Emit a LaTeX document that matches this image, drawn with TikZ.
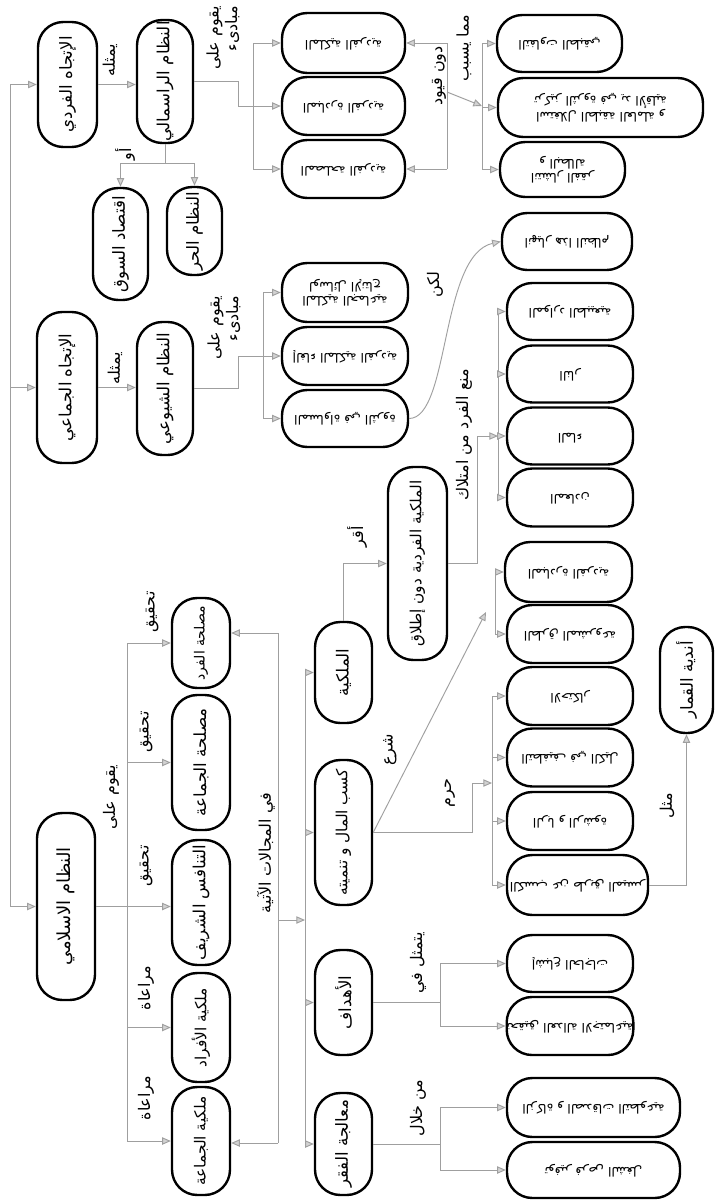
\documentclass[tikz,border=0pt]{standalone}
\usepackage{fontspec}
\usepackage{graphicx}
\newfontfamily\arabicfont[Script=Arabic]{DejaVu Sans}
\TeXXeTstate=1
\usetikzlibrary{arrows.meta}
\newcommand\ar[1]{{\arabicfont\beginR #1\endR}}
\newcommand\vt[1]{\rotatebox{90}{\ar{#1}}}
\newcommand\ut[1]{\rotatebox{180}{\begin{tabular}{@{}c@{}}#1\end{tabular}}}
\tikzset{
  box/.style 2 args={draw, line width=1.8pt, rounded corners=19pt, inner sep=0pt,
    minimum width=#1*0.75pt, minimum height=#2*0.75pt, font=\fontsize{12.5}{14}\selectfont},
  small/.style={font=\fontsize{9.5}{11}\selectfont},
  tight/.style={font=\fontsize{11.5}{13}\selectfont},
  link/.style={draw=gray!75, line width=0.7pt},
  arr/.style={link, -{Triangle[length=6.5pt, width=5.5pt, fill=gray!35]}},
  lab/.style={rotate=90, font=\fontsize{12}{14}\selectfont, inner sep=1pt},
}
\begin{document}
\begin{tikzpicture}[x=0.75pt, y=-0.75pt]
  \path[fill=white] (0,0) rectangle (715,1200);
  % top level
  \node[box={59}{125}] (A1) at (67.5,84.5) {\vt{الإتجاه الفردي}};
  \node[box={60}{151}] (A2) at (67,387.5) {\vt{الإتجاه الجماعي}};
  \node[box={58}{187}, font=\fontsize{13.5}{15}\selectfont] (A3) at (66,906.5) {\vt{النظام الاسلامي}};
  \node[box={56}{123}] (B1) at (165,81.5) {\vt{النظام الراسمالي}};
  \node[box={56}{133}] (B2) at (165,388.5) {\vt{النظام الشيوعي}};
  \node[box={55}{112}] (C1) at (120.5,244) {\vt{اقتصاد السوق}};
  \node[box={55}{88}] (C2) at (194.5,231) {\vt{النظام الحر}};
  % capitalism
  \node[box={123}{60}, small] (K1) at (343.5,43) {\ut{\ar{الملكية الفردية}}};
  \node[box={123}{58}, small] (K2) at (343.5,106) {\ut{\ar{المبادرة الفردية}}};
  \node[box={123}{58}, small] (K3) at (343.5,169) {\ut{\ar{المصلحة الفردية}}};
  \node[box={125}{57}, small] (R1) at (559.5,43.5) {\ut{\ar{التفاوت الطبقي}}};
  \node[box={205}{59}, small] (R2) at (600.5,107.5) {\ut{\ar{استغلال الطبقة العاملة و}\\\ar{تركيز الثروة في يد الأقلية}}};
  \node[box={125}{55}, small] (R3) at (562.5,169.5) {\ut{\ar{انتشار الفقر}\\\ar{و البطالة}}};
  % communism
  \node[box={126}{59}, small] (S1) at (345,292.5) {\ut{\ar{الملكية الجماعية}\\\ar{لوسائل الإنتاج}}};
  \node[box={126}{58}, small] (S2) at (345,356) {\ut{\ar{إلغاء الملكية الفردية}}};
  \node[box={126}{57}, small] (S3) at (345,418.5) {\ut{\ar{المساواة في الثروة}}};
  \node[box={130}{57}, small] (T) at (567,241.5) {\ut{\ar{انهيار هذا النظام}}};
  % islamic system
  \node[box={58}{90}, font=\fontsize{10.5}{12}\selectfont] (P1) at (201,643) {\vt{مصلحة الفرد}};
  \node[box={58}{135}] (P2) at (201,762.5) {\vt{مصلحة الجماعة}};
  \node[box={58}{125}] (P3) at (201,902.5) {\vt{التنافس الشريف}};
  \node[box={58}{109}, tight] (P4) at (201,1027.5) {\vt{ملكية الأفراد}};
  \node[box={58}{108}, tight] (P5) at (201,1141) {\vt{ملكية الجماعة}};
  \node[box={57}{101}] (D1) at (343.5,672.5) {\vt{الملكية}};
  \node[box={57}{145}, tight] (D2) at (343.5,832.5) {\vt{كسب المال و تنميته}};
  \node[box={57}{105}] (D3) at (343.5,1002.5) {\vt{الأهداف}};
  \node[box={57}{102}] (D4) at (343.5,1144) {\vt{معالجة الفقر}};
  \node[box={59}{193}, tight] (M) at (417.5,563.5) {\vt{الملكية الفردية دون إطلاق}};
  \node[box={53}{106}] (Q) at (686.5,680) {\vt{أندية القمار}};
  \node[box={126}{57}, small] (O1) at (570,311.5) {\ut{\ar{الموارد الطبيعية}}};
  \node[box={126}{57}, small] (O2) at (570,374) {\ut{\ar{النار}}};
  \node[box={126}{57}, small] (O3) at (570,436) {\ut{\ar{الماء}}};
  \node[box={126}{58}, small] (O4) at (570,497.5) {\ut{\ar{المعادن}}};
  \node[box={127}{60}, small] (G1) at (568.5,572) {\ut{\ar{المبادرة الفردية}}};
  \node[box={126}{58}, small] (G2) at (570,634) {\ut{\ar{الطرق المشروعة}}};
  \node[box={126}{58}, small] (H1) at (570,696) {\ut{\ar{الاحتكار}}};
  \node[box={126}{58}, small] (H2) at (570,757.5) {\ut{\ar{التطفيف في الكيل}}};
  \node[box={126}{58}, small] (H3) at (570,821) {\ut{\ar{الربا و الرشوة}}};
  \node[box={141}{60}, small] (H4) at (577.5,885) {\ut{\ar{الكسب عن طريق الميسر}}};
  \node[box={126}{57}, small] (E1) at (570,963.5) {\ut{\ar{إشباع الحاجات}}};
  \node[box={126}{58}, small] (E2) at (570,1026) {\ut{\ar{تحقيق العدالة الاجتماعية}}};
  \node[box={173}{59}, small] (F1) at (593.5,1107.5) {\ut{\ar{الزكاة و الصدقات التطوعية}}};
  \node[box={173}{56}, small] (F2) at (593.5,1170) {\ut{\ar{توفير فرص الشغل}}};

  % root bus
  \coordinate (r1) at (10,84.5);
  \coordinate (r3) at (10,906.5);
  \draw[link] (r1) -- (r3);
  \draw[arr] (r1) -- (A1);
  \draw[arr] (r1 |- A2) -- (A2);
  \draw[arr] (r3) -- (A3);
  \draw[arr] (A1.east) -- (A1.east -| B1.west);
  \draw[arr] (A2.east) -- (A2.east -| B2.west);
  \node[lab] at (110,60) {\ar{يمثله}};
  \node[lab] at (115,368) {\ar{يمثله}};

  % capitalism links
  \coordinate (or) at (165,163);
  \draw[link] (B1.south) -- (or);
  \draw[arr] (or) -| (C1);
  \draw[arr] (or) -| (C2);
  \node[lab] at (125,154) {\ar{أو}};
  \coordinate (kj) at (238,81.5);
  \coordinate (k1) at (253,43);
  \coordinate (k3) at (253,169);
  \draw[link] (B1.east) -- (kj) |- (k1 |- K2);
  \draw[link] (k1) -- (k3);
  \draw[arr] (k1) -- (K1);
  \draw[arr] (k1 |- K2) -- (K2);
  \draw[arr] (k3) -- (K3);
  \node[lab, align=right] at (223,38) {\ar{يقوم على}\\\ar{مبادىء}};
  \coordinate (q1) at (447,43);
  \coordinate (q3) at (447,169);
  \coordinate (qm) at (447,92);
  \coordinate (m1) at (482,43.5);
  \coordinate (m2) at (482,106);
  \coordinate (m3) at (482,169.5);
  \draw[link] (q1) -- (q3);
  \draw[arr] (q1) -- (K1);
  \draw[arr] (q3) -- (K3);
  \draw[arr] (qm) -- (m2);
  \draw[link] (m1) -- (m3);
  \draw[arr] (m1) -- (R1);
  \draw[arr] (m1 |- R2) -- (R2);
  \draw[arr] (m3) -- (R3);
  \node[lab] at (439,76) {\ar{دون قيود}};
  \node[lab] at (464,48) {\ar{مما يسبب}};

  % communism links
  \coordinate (sj) at (238,388.5);
  \coordinate (s1) at (263,292.5);
  \coordinate (s3) at (263,418.5);
  \draw[link] (B2.east) -- (sj) |- (s1 |- S2);
  \draw[link] (s1) -- (s3);
  \draw[arr] (s1) -- (S1);
  \draw[arr] (s1 |- S2) -- (S2);
  \draw[arr] (s3) -- (S3);
  \node[lab, align=right] at (224,328) {\ar{يقوم على}\\\ar{مبادىء}};
  \draw[arr] (S3.east) .. controls (450,418) and (440,255) .. (T.west);
  \node[lab] at (435,285) {\ar{لكن}};

  % islamic system links
  \coordinate (p1) at (127,643);
  \coordinate (p5) at (127,1141);
  \draw[link] (p1) -- (p5);
  \draw[arr] (A3.east) -- (A3.east -| P3.west);
  \draw[arr] (p1) -- (P1);
  \draw[arr] (p1 |- P2) -- (P2);
  \draw[arr] (p1 |- P4) -- (P4);
  \draw[arr] (p5) -- (P5);
  \node[lab] at (111,797) {\ar{يقوم على}};
  \node[lab] at (152,612) {\ar{تحقيق}};
  \node[lab] at (146,732) {\ar{تحقيق}};
  \node[lab] at (146,866) {\ar{تحقيق}};
  \node[lab] at (146,988) {\ar{مراعاة}};
  \node[lab] at (146,1098) {\ar{مراعاة}};
  \coordinate (f1) at (278,633);
  \coordinate (f5) at (278,1143);
  \coordinate (fm) at (278,920);
  \draw[link] (f1) -- (f5);
  \draw[arr] (f1) -- (P1.east |- f1);
  \draw[arr] (f5) -- (P5.east |- f5);
  \node[lab] at (266,853) {\ar{في المجالات الآتية}};
  \coordinate (d1) at (305,672.5);
  \coordinate (d4) at (305,1144);
  \draw[arr] (fm) -- (d1 |- fm);
  \draw[link] (d1) -- (d4);
  \draw[arr] (d1) -- (D1);
  \draw[arr] (d1 |- D2) -- (D2);
  \draw[arr] (d1 |- D3) -- (D3);
  \draw[arr] (d4) -- (D4);

  % ownership
  \draw[arr] (D1.north) |- (M.west);
  \node[lab] at (357,537) {\ar{أقر}};
  \coordinate (mj) at (477,563.5);
  \coordinate (o1) at (498,311.5);
  \coordinate (o4) at (498,497.5);
  \draw[arr] (M.east) -- (mj) |- (o1 |- O3);
  \draw[link] (o1) -- (o4);
  \draw[arr] (o1) -- (O1);
  \draw[arr] (o1 |- O2) -- (O2);
  \draw[arr] (o1 |- O3) -- (O3);
  \draw[arr] (o4) -- (O4);
  \node[lab] at (464,435) {\ar{منع الفرد من امتلاك}};

  % earning money
  \coordinate (gm) at (486,612);
  \coordinate (g1) at (495,572);
  \coordinate (g2) at (495,634);
  \draw[arr] (D2.east) -- (gm);
  \draw[link] (g1) -- (g2);
  \draw[arr] (g1) -- (G1);
  \draw[arr] (g2) -- (G2);
  \node[lab] at (390,750) {\ar{شرع}};
  \coordinate (hj) at (472,832.5);
  \coordinate (hm) at (492,783);
  \coordinate (h1) at (492,696);
  \coordinate (h4) at (492,885);
  \draw[arr] (D2.east) -- (hj) |- (hm);
  \draw[link] (h1) -- (h4);
  \draw[arr] (h1) -- (H1);
  \draw[arr] (h1 |- H2) -- (H2);
  \draw[arr] (h1 |- H3) -- (H3);
  \draw[arr] (h4) -- (H4);
  \node[lab] at (450,793) {\ar{حرم}};
  \draw[arr] (H4.east) -| (Q);
  \node[lab] at (667,806) {\ar{مثل}};

  % goals and poverty
  \coordinate (e1) at (440,963.5);
  \coordinate (e2) at (440,1026);
  \draw[link] (D3.east) -- (D3.east -| e1);
  \draw[link] (e1) -- (e2);
  \draw[arr] (e1) -- (E1);
  \draw[arr] (e2) -- (E2);
  \node[lab] at (418,963) {\ar{يتمثل في}};
  \coordinate (c1) at (440,1107.5);
  \coordinate (c2) at (440,1170);
  \draw[link] (D4.east) -- (D4.east -| c1);
  \draw[link] (c1) -- (c2);
  \draw[arr] (c1) -- (F1);
  \draw[arr] (c2) -- (F2);
  \node[lab] at (418,1108) {\ar{من خلال}};
\end{tikzpicture}
\end{document}
